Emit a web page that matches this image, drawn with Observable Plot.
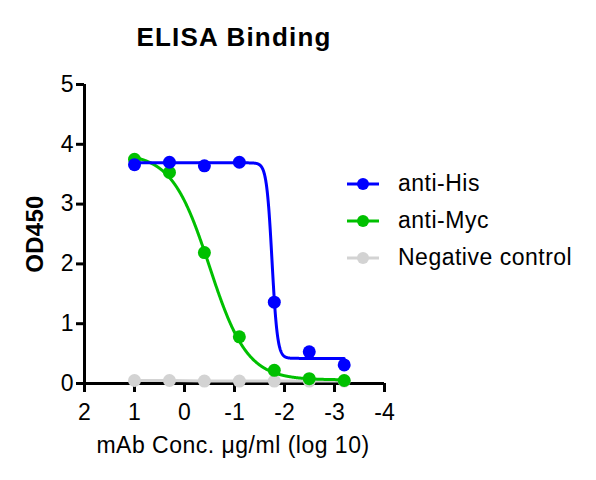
<!DOCTYPE html>
<html>
<head>
<meta charset="utf-8">
<script src="https://cdn.jsdelivr.net/npm/d3@7"></script>
<script src="https://cdn.jsdelivr.net/npm/@observablehq/plot@0.6"></script>
<style>
  html, body { margin: 0; padding: 0; background: #fff; }
  #wrap { position: relative; width: 596px; height: 480px; font-family: "Liberation Sans", Arial, sans-serif; color: #000; }
  #chart { position: absolute; left: 0; top: 0; }
  .abs { position: absolute; white-space: nowrap; line-height: 1; }
  #title { font-weight: bold; font-size: 26px; letter-spacing: 1.2px; left: 234px; top: 24px; transform: translateX(-50%); }
  #xlabel { font-size: 23px; letter-spacing: 0.5px; left: 233px; top: 434px; transform: translateX(-50%); }
  #ylabel { font-weight: bold; font-size: 24px; letter-spacing: 0.3px; left: 35px; top: 234px; transform: translate(-50%, -50%) rotate(-90deg); }
  #legend { left: 346px; top: 165px; font-size: 23px; letter-spacing: 0.5px; }
  .row { display: flex; align-items: center; height: 37px; }
  .row svg { margin-right: 18px; }
</style>
</head>
<body>
<div id="wrap">
  <div id="chart"></div>
  <div id="title" class="abs">ELISA Binding</div>
  <div id="ylabel" class="abs">OD450</div>
  <div id="xlabel" class="abs">mAb Conc. μg/ml (log 10)</div>
  <div id="legend" class="abs"></div>
</div>
<script>
// log10 concentration (5-fold dilutions)
const logConc = [1, 0.301, -0.398, -1.097, -1.796, -2.495, -3.194];
const antiHis = [3.66, 3.70, 3.64, 3.70, 1.36, 0.53, 0.31];
const antiMyc = [3.75, 3.53, 2.19, 0.78, 0.22, 0.08, 0.05];
const negCtrl = [0.05, 0.05, 0.04, 0.04, 0.04, 0.04, 0.04];

const seriesNames = ["anti-His", "anti-Myc", "Negative control"];
const seriesColors = ["#0000ff", "#00c000", "#d3d3d3"];
// fitted 4-parameter logistic curves: [bottom, top, logEC50, hill]
const fitHis = [0.42, 3.69, -1.75, 8];
const fitMyc = [0.06, 3.85, -0.50, 1.15];
const fitNeg = null;

const xTicks = [2, 1, 0, -1, -2, -3, -4];
const yTicks = [0, 1, 2, 3, 4, 5];

const seriesValues = [antiHis, antiMyc, negCtrl];
const fits = [fitHis, fitMyc, fitNeg];

function fitCurve(p) {
  const [b, t, ec, h] = p;
  const xs = d3.range(logConc[0], logConc[logConc.length - 1], -0.005).concat([logConc[logConc.length - 1]]);
  return xs.map(x => ({x, y: b + (t - b) / (1 + Math.pow(10, (ec - x) * h))}));
}

const marks = [];
// draw order: negative control, anti-Myc, anti-His
[2, 1, 0].forEach(i => {
  const pts = logConc.map((x, j) => ({x, y: seriesValues[i][j]}));
  const curve = fits[i] ? fitCurve(fits[i]) : pts;
  marks.push(Plot.line(curve, {x: "x", y: "y", stroke: seriesColors[i], strokeWidth: 3}));
  marks.push(Plot.dot(pts, {x: "x", y: "y", fill: seriesColors[i], r: 6.5, stroke: "none"}));
});

const chart = Plot.plot({
  width: 596,
  height: 480,
  marginLeft: 84,
  marginRight: 212,
  marginTop: 84,
  marginBottom: 97,
  x: {domain: [2, -4]},
  y: {domain: [0, 5]},
  style: {fontFamily: "'Liberation Sans', Arial, sans-serif", fontSize: "23px", color: "#000", background: "transparent"},
  marks: [
    Plot.axisX({ticks: xTicks, tickSize: 9, tickPadding: 11, strokeWidth: 3, fontSize: 23, label: null, tickFormat: d => String(d)}),
    Plot.axisY({ticks: yTicks, tickSize: 8, tickPadding: 3, strokeWidth: 3, fontSize: 23, label: null, tickFormat: d => String(d)}),
    Plot.ruleY([0], {stroke: "#000", strokeWidth: 3}),
    Plot.ruleX([2], {stroke: "#000", strokeWidth: 3}),
    ...marks
  ]
});
document.getElementById("chart").appendChild(chart);

const legend = document.getElementById("legend");
seriesNames.forEach((name, i) => {
  const row = document.createElement("div");
  row.className = "row";
  row.innerHTML = `<svg width="34" height="14"><line x1="1" y1="7" x2="33" y2="7" stroke="${seriesColors[i]}" stroke-width="3"/><circle cx="17" cy="7" r="6" fill="${seriesColors[i]}"/></svg><span>${name}</span>`;
  legend.appendChild(row);
});
</script>
</body>
</html>
